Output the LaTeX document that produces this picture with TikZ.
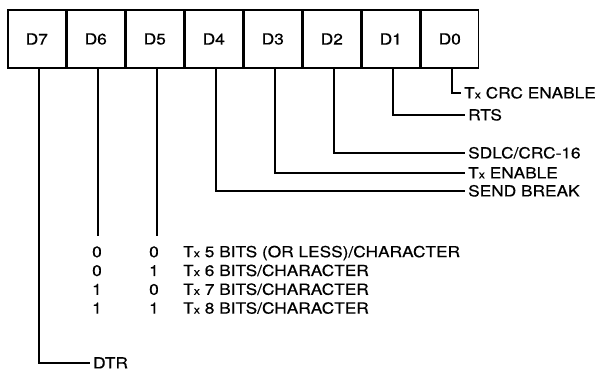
\documentclass[tikz,border=0pt]{standalone}
\usepackage{fontspec}
\setmainfont{TeX Gyre Heros}[FakeStretch=1.13, FakeBold=0.5]
\usetikzlibrary{positioning}
\newcommand{\Tx}{T{\fontsize{11}{11}\selectfont x}}

\begin{document}
\begin{tikzpicture}[x=1pt, y=-1pt, line width=1.4pt,
        font=\fontsize{15.3}{15}\selectfont,
        bit/.style = {draw, minimum width = 57.6pt, minimum height = 58pt, inner sep=0pt},
        lbl/.style = {anchor = west, inner sep = 2.5pt, text height = 10.8pt, text depth = 0pt},
        val/.style = {inner sep = 3pt, text height = 10.8pt, text depth = 0pt}
    ]
        \useasboundingbox (0,0) rectangle (600,371);
        % register bits
        \node[bit] (d7) at (36.8,39) {D7};
        \node[bit, right=0pt of d7] (d6) {D6};
        \node[bit, right=0pt of d6] (d5) {D5};
        \node[bit, right=0pt of d5] (d4) {D4};
        \node[bit, right=0pt of d4] (d3) {D3};
        \node[bit, right=0pt of d3] (d2) {D2};
        \node[bit, right=0pt of d2] (d1) {D1};
        \node[bit, right=0pt of d1] (d0) {D0};
        % bit names
        \node[lbl] (crc) at (461,93) {\Tx\ CRC ENABLE};
        \node[lbl] (rts) at (465,115) {RTS};
        \node[lbl] (sdlc) at (465,153) {SDLC/CRC-16};
        \node[lbl] (txen) at (465,173) {\Tx\ ENABLE};
        \node[lbl] (brk) at (465,191) {SEND BREAK};
        \node[lbl] (dtr) at (90,363) {DTR};
        \draw ([xshift=2pt]d0.south) |- (crc.west);
        \draw ([xshift=2pt]d1.south) |- (rts.west);
        \draw ([xshift=2pt]d2.south) |- (sdlc.west);
        \draw ([xshift=2pt]d3.south) |- (txen.west);
        \draw ([xshift=2pt]d4.south) |- (brk.west);
        \draw ([xshift=2pt]d7.south) |- (dtr.west);
        % bits per character
        \foreach \i/\a/\b/\t in {1/0/0/{\Tx\ 5 BITS (OR LESS)/CHARACTER},
                2/0/1/{\Tx\ 6 BITS/CHARACTER},
                3/1/0/{\Tx\ 7 BITS/CHARACTER},
                4/1/1/{\Tx\ 8 BITS/CHARACTER}} {
            \node[val] (r\i a) at (97,{233+18.8*\i}) {\a};
            \node[val] (r\i b) at (154,{233+18.8*\i}) {\b};
            \node[lbl] (r\i t) at (180,{233+18.8*\i}) {\t};
        }
        \draw[shorten >=6.6pt] ([xshift=2pt]d6.south) -- ([xshift=2pt]d6.south |- r1a.north);
        \draw[shorten >=6.6pt] ([xshift=2pt]d5.south) -- ([xshift=2pt]d5.south |- r1b.north);
    \end{tikzpicture}
\end{document}
